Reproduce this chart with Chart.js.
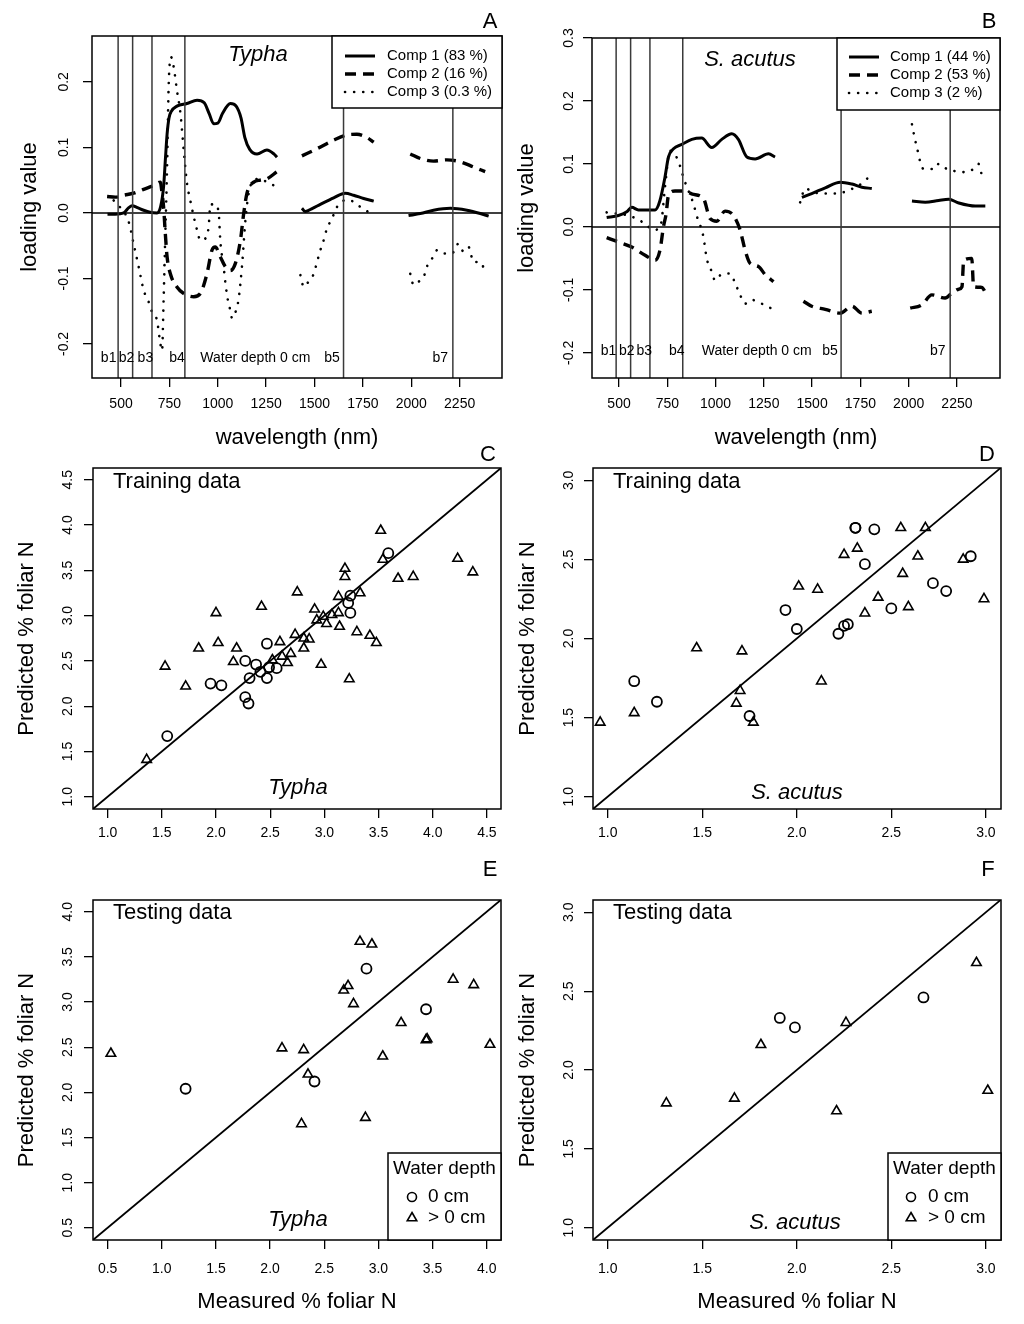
<!DOCTYPE html>
<html><head><meta charset="utf-8">
<script src="https://cdn.jsdelivr.net/npm/chart.js@4/dist/chart.umd.min.js"></script>
<style>
html,body{margin:0;padding:0;background:#fff;}
#wrap{position:relative;width:1024px;height:1324px;background:#fff;overflow:hidden;}
canvas{position:absolute;}
</style></head><body>
<div id="wrap">
<canvas id="cA" width="512" height="460" style="left:0;top:0"></canvas>
<canvas id="cB" width="512" height="460" style="left:512px;top:0"></canvas>
<canvas id="cC" width="512" height="440" style="left:0;top:440px"></canvas>
<canvas id="cD" width="512" height="440" style="left:512px;top:440px"></canvas>
<canvas id="cE" width="512" height="464" style="left:0;top:860px"></canvas>
<canvas id="cF" width="512" height="464" style="left:512px;top:860px"></canvas>
</div>
<script>
// ---------------- DATA ----------------
const wlTicks = [500,750,1000,1250,1500,1750,2000,2250];
const typhaLoadTicks = [-0.2,-0.1,0.0,0.1,0.2];
const acutusLoadTicks = [-0.2,-0.1,0.0,0.1,0.2,0.3];
const bandWavelengths = [485,560,660,830,1650,2215];
const typhaCompLabels = ['Comp 1 (83 %)','Comp 2 (16 %)','Comp 3 (0.3 %)'];
const acutusCompLabels = ['Comp 1 (44 %)','Comp 2 (53 %)','Comp 3 (2 %)'];

const typhaComp1 = [[430,-0.002],[470,-0.002],[514,0.000],[540,0.008],[557,0.011],[585,0.008],[617,0.004],[650,0.001],[686,0.000],[705,0.010],[720,0.040],[730,0.085],[738,0.120],[748,0.145],[760,0.155],[789,0.163],[841,0.167],[893,0.172],[930,0.168],[955,0.152],[979,0.136],[1000,0.137],[1025,0.152],[1065,0.167],[1095,0.163],[1120,0.145],[1140,0.115],[1165,0.097],[1203,0.090],[1254,0.096],[1290,0.090],[1306,0.085],[1370,null],
  [1435,0.007],[1452,0.002],[1490,0.007],[1530,0.013],[1599,0.023],[1659,0.030],[1702,0.027],[1754,0.022],[1806,0.018],[1900,null],
  [1986,-0.004],[2047,-0.001],[2115,0.004],[2202,0.007],[2288,0.004],[2357,-0.001],[2400,-0.005]];
const typhaComp2 = [[428,0.025],[470,0.024],[514,0.027],[565,0.030],[617,0.036],[669,0.042],[703,0.047],[712,0.030],[720,0.009],[729,-0.032],[738,-0.067],[755,-0.093],[789,-0.113],[824,-0.123],[876,-0.128],[910,-0.123],[944,-0.093],[970,-0.057],[987,-0.052],[1013,-0.067],[1039,-0.082],[1065,-0.088],[1091,-0.077],[1117,-0.042],[1134,-0.001],[1151,0.030],[1186,0.047],[1220,0.050],[1254,0.052],[1306,0.063],[1370,null],
  [1435,0.087],[1513,0.098],[1599,0.111],[1668,0.119],[1719,0.120],[1771,0.115],[1806,0.108],[1900,null],
  [1995,0.090],[2047,0.083],[2115,0.079],[2184,0.081],[2253,0.078],[2322,0.070],[2382,0.063]];
const typhaComp3 = [[462,0.019],[479,0.014],[540,-0.014],[565,-0.047],[591,-0.082],[617,-0.118],[643,-0.136],[660,-0.151],[686,-0.164],[703,-0.199],[712,-0.210],[720,-0.133],[729,-0.032],[738,0.070],[746,0.192],[758,0.238],[772,0.223],[789,0.187],[807,0.152],[824,0.096],[841,0.045],[858,0.019],[876,-0.006],[893,-0.026],[910,-0.042],[936,-0.039],[953,-0.021],[962,0.013],[987,0.013],[1005,-0.001],[1013,-0.042],[1030,-0.082],[1048,-0.126],[1065,-0.149],[1074,-0.161],[1099,-0.144],[1108,-0.131],[1125,-0.082],[1143,-0.011],[1160,0.030],[1186,0.050],[1220,0.052],[1254,0.047],[1289,0.042],[1360,null],
  [1427,-0.095],[1444,-0.113],[1461,-0.108],[1496,-0.093],[1513,-0.075],[1530,-0.057],[1547,-0.042],[1564,-0.024],[1590,-0.009],[1616,0.009],[1668,0.020],[1702,0.017],[1746,0.007],[1789,0.000],[1900,null],
  [1995,-0.093],[2012,-0.110],[2038,-0.105],[2064,-0.098],[2081,-0.082],[2107,-0.070],[2133,-0.057],[2167,-0.062],[2210,-0.062],[2244,-0.047],[2270,-0.059],[2296,-0.052],[2322,-0.075],[2357,-0.075],[2382,-0.090]];

const acutusComp1 = [[436,0.015],[497,0.018],[540,0.024],[566,0.031],[600,0.027],[687,0.027],[712,0.042],[738,0.079],[756,0.111],[782,0.124],[825,0.131],[877,0.139],[928,0.141],[980,0.126],[1032,0.139],[1084,0.148],[1118,0.139],[1162,0.111],[1205,0.108],[1274,0.116],[1308,0.111],[1370,null],
  [1447,0.047],[1498,0.053],[1568,0.062],[1645,0.071],[1706,0.068],[1758,0.063],[1809,0.061],[1900,null],
  [2017,0.041],[2086,0.039],[2155,0.042],[2207,0.044],[2259,0.038],[2345,0.033],[2397,0.033]];
const acutusComp2 = [[436,-0.017],[497,-0.024],[566,-0.032],[635,-0.045],[687,-0.053],[712,-0.037],[730,0.000],[744,0.021],[756,0.050],[790,0.057],[840,0.057],[880,0.052],[937,0.045],[972,0.013],[1006,0.009],[1049,0.025],[1093,0.018],[1127,-0.005],[1153,-0.037],[1179,-0.058],[1222,-0.063],[1257,-0.076],[1300,-0.087],[1370,null],
  [1455,-0.118],[1498,-0.126],[1568,-0.131],[1645,-0.137],[1706,-0.126],[1758,-0.137],[1809,-0.134],[1900,null],
  [2008,-0.129],[2068,-0.124],[2120,-0.108],[2189,-0.113],[2224,-0.105],[2259,-0.099],[2276,-0.095],[2285,-0.053],[2327,-0.050],[2336,-0.095],[2379,-0.096],[2397,-0.104]];
const acutusComp3 = [[436,0.023],[560,0.017],[635,0.005],[678,-0.005],[712,0.000],[721,0.011],[738,0.063],[764,0.121],[807,0.105],[825,0.087],[842,0.071],[885,0.037],[903,0.017],[920,0.003],[937,-0.016],[954,-0.050],[980,-0.071],[997,-0.085],[1032,-0.075],[1075,-0.074],[1101,-0.089],[1127,-0.108],[1153,-0.122],[1187,-0.116],[1239,-0.122],[1291,-0.129],[1300,-0.118],[1370,null],
  [1438,0.039],[1464,0.061],[1507,0.055],[1568,0.053],[1628,0.053],[1688,0.058],[1766,0.071],[1801,0.082],[1900,null],
  [2017,0.163],[2034,0.137],[2043,0.126],[2060,0.103],[2077,0.092],[2137,0.092],[2155,0.100],[2198,0.092],[2250,0.088],[2293,0.087],[2336,0.092],[2362,0.100],[2379,0.082]];

const nTicksC = [1.0,1.5,2.0,2.5,3.0,3.5,4.0,4.5];
const nTicksD = [1.0,1.5,2.0,2.5,3.0];
const nTicksE = [0.5,1.0,1.5,2.0,2.5,3.0,3.5,4.0];
const nTicksF = [1.0,1.5,2.0,2.5,3.0];

const typhaTrainCircX = [1.55,1.95,2.05,2.27,2.30,2.27,2.37,2.31,2.47,2.47,2.49,2.56,2.41,3.24,3.22,3.24,3.59];
const typhaTrainCircY = [1.67,2.25,2.23,2.10,2.03,2.50,2.46,2.31,2.69,2.31,2.43,2.42,2.38,3.22,3.14,3.03,3.69];
const typhaTrainTriX = [1.36,1.53,1.72,1.84,2.00,2.02,2.16,2.19,2.42,2.59,2.66,2.69,2.73,2.75,2.81,2.81,2.86,2.91,2.93,2.97,2.99,3.02,3.07,3.13,3.13,3.14,3.19,3.19,3.23,3.30,3.33,3.42,3.48,3.52,3.54,3.68,3.82,4.23,4.37,2.61,2.52];
const typhaTrainTriY = [1.41,2.44,2.22,2.64,3.03,2.70,2.49,2.64,3.10,2.71,2.48,2.58,2.79,3.26,2.75,2.64,2.74,3.07,2.95,2.46,2.99,2.91,3.01,3.03,3.21,2.88,3.52,3.43,2.30,2.82,3.25,2.78,2.70,3.94,3.62,3.41,3.43,3.63,3.48,2.55,2.51];

const acutusTrainCircX = [1.14,1.26,1.75,1.94,2.00,2.22,2.25,2.27,2.31,2.31,2.41,2.36,2.50,2.72,2.79,2.92];
const acutusTrainCircY = [1.73,1.60,1.51,2.18,2.06,2.03,2.08,2.09,2.70,2.70,2.69,2.47,2.19,2.35,2.30,2.52];
const acutusTrainTriX = [0.96,1.14,1.47,1.68,1.70,1.71,1.77,2.01,2.11,2.13,2.25,2.32,2.36,2.43,2.55,2.56,2.59,2.64,2.68,2.88,2.99];
const acutusTrainTriY = [1.47,1.53,1.94,1.59,1.67,1.92,1.47,2.33,2.31,1.73,2.53,2.57,2.16,2.26,2.70,2.41,2.20,2.52,2.70,2.50,2.25];

const typhaTestCircX = [1.22,2.89,3.44,2.41];
const typhaTestCircY = [2.04,3.37,2.92,2.12];
const typhaTestTriX = [0.53,2.11,2.31,2.29,2.35,2.68,2.72,2.77,2.83,2.94,2.88,3.04,3.21,3.45,3.44,3.69,3.88,4.03];
const typhaTestTriY = [2.43,2.49,2.47,1.65,2.20,3.13,3.18,2.98,3.67,3.64,1.72,2.40,2.77,2.59,2.58,3.25,3.19,2.53];

const acutusTestCircX = [1.91,1.99,2.67];
const acutusTestCircY = [2.33,2.27,2.46];
const acutusTestTriX = [1.31,1.67,1.81,2.26,2.21,2.95,3.01];
const acutusTestTriY = [1.79,1.82,2.16,2.30,1.74,2.68,1.87];

// ---------------- HELPERS ----------------
const FONT = "'Liberation Sans', Arial, Helvetica, sans-serif";
Chart.defaults.font.family = FONT;
Chart.defaults.color = '#000';
const pairs = arr => arr.map(p => ({x:p[0], y:p[1]}));
const zip = (xs, ys) => xs.map((x,i) => ({x, y:ys[i]}));

function axisX(min, max, ticks, fmt, title, o){
  return {
    type:'linear', position:'bottom', min, max,
    afterBuildTicks: s => { s.ticks = ticks.map(v => ({value:v})); },
    afterFit: s => { s.height = o.h; s.paddingLeft = 0; s.paddingRight = 0; },
    grid:{display:true, drawOnChartArea:false, drawTicks:true, tickLength:9, color:'#000', lineWidth:1.3},
    border:{display:false},
    ticks:{color:'#000', font:{family:FONT, size:14}, padding:o.tp, maxRotation:0, minRotation:0, autoSkip:false, callback:v => fmt(v)},
    title:{display:!!title, text:title||'', color:'#000', font:{family:FONT, size:22}, padding:{top:0, bottom:o.titlePad||0}}
  };
}
function axisY(min, max, ticks, title, o){
  return {
    type:'linear', position:'left', min, max,
    afterBuildTicks: s => { s.ticks = ticks.map(v => ({value:v})); },
    afterFit: s => { s.width = o.w; s.paddingTop = 0; s.paddingBottom = 0; },
    grid:{display:true, drawOnChartArea:false, drawTicks:true, tickLength:9, color:'#000', lineWidth:1.3},
    border:{display:false},
    ticks:{color:'#000', font:{family:FONT, size:14}, padding:o.tp, minRotation:90, maxRotation:90, crossAlign:'center', autoSkip:false, callback:v => v.toFixed(1)},
    title:{display:true, text:title, color:'#000', font:{family:FONT, size:22}, padding:{top:o.titlePad, bottom:0}}
  };
}

function makeDeco(cfg){
  return {
    id:'deco',
    afterDatasetsDraw(chart){
      const ctx = chart.ctx, a = chart.chartArea;
      ctx.save();
      ctx.strokeStyle = '#000'; ctx.lineWidth = 1.5; ctx.setLineDash([]);
      ctx.strokeRect(a.left, a.top, a.right - a.left, a.bottom - a.top);
      ctx.fillStyle = '#000'; ctx.textBaseline = 'middle';
      (cfg.texts || []).forEach(t => {
        let x = t.x, y = t.y;
        if (t.data) { x = chart.scales.x.getPixelForValue(t.x); y = chart.scales.y.getPixelForValue(t.y); }
        ctx.font = (t.style ? t.style + ' ' : '') + t.size + 'px ' + FONT;
        ctx.textAlign = t.align || 'center';
        ctx.fillText(t.text, x, y);
      });
      if (cfg.lineLegend) {
        const L = cfg.lineLegend;
        ctx.fillStyle = '#fff';
        ctx.fillRect(L.x1, L.y1, L.x2 - L.x1, L.y2 - L.y1);
        ctx.strokeStyle = '#000'; ctx.lineWidth = 1.5;
        ctx.strokeRect(L.x1, L.y1, L.x2 - L.x1, L.y2 - L.y1);
        ctx.font = '15px ' + FONT; ctx.textAlign = 'left'; ctx.fillStyle = '#000';
        L.ds.forEach((di, i) => {
          const d = chart.data.datasets[di];
          const y = L.y0 + i * L.dy;
          ctx.beginPath();
          ctx.setLineDash(d.borderDash || []);
          ctx.lineCap = d.borderCapStyle || 'butt';
          ctx.lineWidth = d.borderWidth;
          ctx.moveTo(L.lx1, y); ctx.lineTo(L.lx2, y); ctx.stroke();
          ctx.setLineDash([]); ctx.lineCap = 'butt';
          ctx.fillText(d.label, L.tx, y);
        });
      }
      if (cfg.ptLegend) {
        const P = cfg.ptLegend;
        ctx.fillStyle = '#fff';
        ctx.fillRect(P.x1, P.y1, P.x2 - P.x1, P.y2 - P.y1);
        ctx.strokeStyle = '#000'; ctx.lineWidth = 1.5;
        ctx.strokeRect(P.x1, P.y1, P.x2 - P.x1, P.y2 - P.y1);
        ctx.fillStyle = '#000'; ctx.font = '19px ' + FONT; ctx.textAlign = 'left';
        ctx.fillText('Water depth', P.tx0, P.ty0);
        P.rows.forEach(r => {
          ctx.fillStyle = 'rgba(0,0,0,0)';
          ctx.strokeStyle = '#000';
          ctx.lineWidth = 1.6;
          Chart.helpers.drawPoint(ctx, {pointStyle:r.style, radius:r.r, borderWidth:1.6, rotation:0}, P.mx, r.y);
          ctx.fillStyle = '#000';
          ctx.fillText(r.text, P.tx, r.y);
        });
      }
      ctx.restore();
    }
  };
}

function loadingDatasets(c1, c2, c3, labels){
  const base = {showLine:true, pointRadius:0, pointHoverRadius:0, borderColor:'#000', backgroundColor:'#000', spanGaps:false, cubicInterpolationMode:'monotone', fill:false};
  const ds = [];
  bandWavelengths.forEach(w => ds.push(Object.assign({}, base, {label:'band', data:[{x:w,y:-1},{x:w,y:1}], borderColor:'#3a3a3a', borderWidth:1.5, cubicInterpolationMode:'default', tension:0})));
  ds.push(Object.assign({}, base, {label:'zero', data:[{x:0,y:0},{x:3000,y:0}], borderWidth:1.5, tension:0, cubicInterpolationMode:'default'}));
  ds.push(Object.assign({}, base, {label:labels[0], data:pairs(c1), borderWidth:3}));
  ds.push(Object.assign({}, base, {label:labels[1], data:pairs(c2), borderWidth:3.4, borderDash:[11,7]}));
  ds.push(Object.assign({}, base, {label:labels[2], data:pairs(c3), borderWidth:2.6, borderDash:[0.1,9], borderCapStyle:'round'}));
  return ds;
}

function scatterDatasets(cx, cy, tx, ty){
  return [
    {label:'1:1', showLine:true, pointRadius:0, data:[{x:0,y:0},{x:5,y:5}], borderColor:'#000', borderWidth:1.8, tension:0},
    {label:'0 cm', showLine:false, data:zip(cx, cy), pointStyle:'circle', pointRadius:5, pointBorderWidth:1.8, pointBorderColor:'#000', pointBackgroundColor:'rgba(0,0,0,0)'},
    {label:'> 0 cm', showLine:false, data:zip(tx, ty), pointStyle:'triangle', pointRadius:5.5, pointBorderWidth:1.6, pointBorderColor:'#000', pointBackgroundColor:'rgba(0,0,0,0)'}
  ];
}

function build(id, datasets, scales, padding, deco){
  new Chart(document.getElementById(id), {
    type:'scatter',
    data:{datasets},
    options:{
      responsive:false, animation:false, devicePixelRatio:1,
      layout:{padding},
      plugins:{legend:{display:false}, tooltip:{enabled:false}, title:{display:false}},
      scales
    },
    plugins:[makeDeco(deco)]
  });
}
const fmtInt = v => String(Math.round(v));
const fmt1 = v => v.toFixed(1);
const nIdx = [bandWavelengths.length + 1, bandWavelengths.length + 2, bandWavelengths.length + 3];

// ---------------- PANEL A ----------------
build('cA', loadingDatasets(typhaComp1, typhaComp2, typhaComp3, typhaCompLabels), {
  x: axisX(350, 2469, wlTicks, fmtInt, 'wavelength (nm)', {h:82, tp:9, titlePad:9}),
  y: axisY(-0.252, 0.270, typhaLoadTicks, 'loading value', {w:92, tp:7, titlePad:17})
}, {top:36, right:10, left:0, bottom:0}, {
  texts:[
    {text:'A', x:490, y:22, size:22},
    {text:'Typha', x:258, y:55, size:22, style:'italic'},
    {text:'b1', x:436, y:-0.222, data:true, size:14},
    {text:'b2', x:528, y:-0.222, data:true, size:14},
    {text:'b3', x:626, y:-0.222, data:true, size:14},
    {text:'b4', x:789, y:-0.222, data:true, size:14},
    {text:'Water depth 0 cm', x:1194, y:-0.222, data:true, size:14},
    {text:'b5', x:1590, y:-0.222, data:true, size:14},
    {text:'b7', x:2150, y:-0.222, data:true, size:14}
  ],
  lineLegend:{x1:332, y1:36, x2:502, y2:108, lx1:345, lx2:375, tx:387, y0:56, dy:18, ds:nIdx}
});

// ---------------- PANEL B ----------------
build('cB', loadingDatasets(acutusComp1, acutusComp2, acutusComp3, acutusCompLabels), {
  x: axisX(360, 2473, wlTicks, fmtInt, 'wavelength (nm)', {h:82, tp:9, titlePad:9}),
  y: axisY(-0.240, 0.300, acutusLoadTicks, 'loading value', {w:80, tp:2, titlePad:2})
}, {top:38, right:24, left:0, bottom:0}, {
  texts:[
    {text:'B', x:477, y:22, size:22},
    {text:'S. acutus', x:238, y:60, size:22, style:'italic'},
    {text:'b1', x:445, y:-0.198, data:true, size:14},
    {text:'b2', x:540, y:-0.198, data:true, size:14},
    {text:'b3', x:631, y:-0.198, data:true, size:14},
    {text:'b4', x:799, y:-0.198, data:true, size:14},
    {text:'Water depth 0 cm', x:1213, y:-0.198, data:true, size:14},
    {text:'b5', x:1593, y:-0.198, data:true, size:14},
    {text:'b7', x:2151, y:-0.198, data:true, size:14}
  ],
  lineLegend:{x1:325, y1:38, x2:488, y2:110, lx1:337, lx2:367, tx:378, y0:57, dy:18, ds:nIdx}
});

// ---------------- PANEL C ----------------
build('cC', scatterDatasets(typhaTrainCircX, typhaTrainCircY, typhaTrainTriX, typhaTrainTriY), {
  x: axisX(0.865, 4.63, nTicksC, fmt1, null, {h:71, tp:7}),
  y: axisY(0.865, 4.63, nTicksC, 'Predicted % foliar N', {w:93, tp:6, titlePad:14})
}, {top:28, right:11, left:0, bottom:0}, {
  texts:[
    {text:'C', x:488, y:15, size:22},
    {text:'Training data', x:113, y:42, size:22, align:'left'},
    {text:'Typha', x:298, y:348, size:22, style:'italic'}
  ]
});

// ---------------- PANEL D ----------------
build('cD', scatterDatasets(acutusTrainCircX, acutusTrainCircY, acutusTrainTriX, acutusTrainTriY), {
  x: axisX(0.922, 3.08, nTicksD, fmt1, null, {h:71, tp:7}),
  y: axisY(0.922, 3.078, nTicksD, 'Predicted % foliar N', {w:81, tp:5, titlePad:3})
}, {top:28, right:23, left:0, bottom:0}, {
  texts:[
    {text:'D', x:475, y:15, size:22},
    {text:'Training data', x:101, y:42, size:22, align:'left'},
    {text:'S. acutus', x:285, y:353, size:22, style:'italic'}
  ]
});

// ---------------- PANEL E ----------------
build('cE', scatterDatasets(typhaTestCircX, typhaTestCircY, typhaTestTriX, typhaTestTriY), {
  x: axisX(0.365, 4.132, nTicksE, fmt1, 'Measured % foliar N', {h:84, tp:12, titlePad:9}),
  y: axisY(0.365, 4.13, nTicksE, 'Predicted % foliar N', {w:93, tp:6, titlePad:14})
}, {top:40, right:11, left:0, bottom:0}, {
  texts:[
    {text:'E', x:490, y:10, size:22},
    {text:'Testing data', x:113, y:53, size:22, align:'left'},
    {text:'Typha', x:298, y:360, size:22, style:'italic'}
  ],
  ptLegend:{x1:388, y1:293, x2:501, y2:380, tx0:393, ty0:309, mx:412, tx:428,
    rows:[{style:'circle', r:4.5, y:337, text:'0 cm'}, {style:'triangle', r:5.5, y:358, text:'> 0 cm'}]}
});

// ---------------- PANEL F ----------------
build('cF', scatterDatasets(acutusTestCircX, acutusTestCircY, acutusTestTriX, acutusTestTriY), {
  x: axisX(0.922, 3.08, nTicksF, fmt1, 'Measured % foliar N', {h:84, tp:12, titlePad:9}),
  y: axisY(0.922, 3.078, nTicksF, 'Predicted % foliar N', {w:81, tp:5, titlePad:3})
}, {top:40, right:23, left:0, bottom:0}, {
  texts:[
    {text:'F', x:476, y:10, size:22},
    {text:'Testing data', x:101, y:53, size:22, align:'left'},
    {text:'S. acutus', x:283, y:363, size:22, style:'italic'}
  ],
  ptLegend:{x1:376, y1:293, x2:489, y2:380, tx0:381, ty0:309, mx:399, tx:416,
    rows:[{style:'circle', r:4.5, y:337, text:'0 cm'}, {style:'triangle', r:5.5, y:358, text:'> 0 cm'}]}
});
</script>
</body></html>
